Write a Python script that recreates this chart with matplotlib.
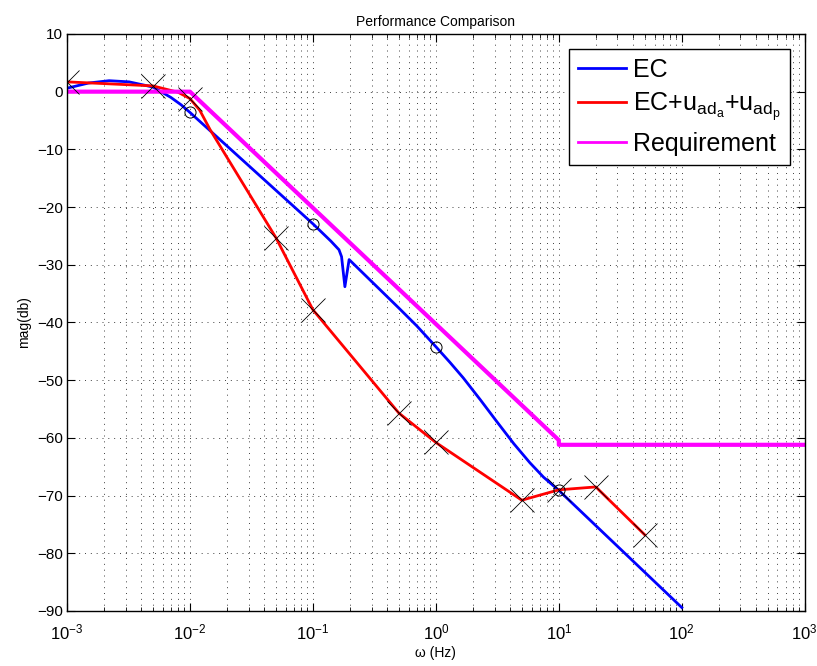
import numpy as np
import matplotlib.pyplot as plt
from matplotlib.ticker import NullFormatter, LogLocator

# -------- Data --------

# EC response (blue)
ec_freq = [1e-3, 1.5e-3, 2.2e-3, 3.2e-3, 5e-3, 7e-3, 8.5e-3, 1e-2, 0.1, 0.14,
           0.163, 0.171, 0.182, 0.197, 0.5, 0.7, 1.0, 1.3, 1.67, 2.3, 3.11,
           4.3, 5.81, 7.5, 10.0, 100.0]
ec_mag = [0.6, 1.5, 1.9, 1.7, 0.8, -1.0, -2.3, -3.6, -22.9, -25.9,
          -27.4, -28.6, -33.8, -29.1, -37.5, -40.6, -44.2, -46.9, -49.6, -53.4, -57.1,
          -61.0, -64.3, -66.8, -69.1, -89.4]
ec_circle_freq = [1e-2, 0.1, 1.0, 10.0]
ec_circle_mag = [-3.6, -22.9, -44.2, -69.1]

# EC + adaptive terms (red)
ad_freq = [1e-3, 5e-3, 8e-3, 1e-2, 0.012, 0.0146, 0.05, 0.1, 0.5, 1.0, 5.0, 10.0, 20.0, 50.0]
ad_mag = [1.7, 1.0, -0.1, -1.2, -3.2, -6.6, -25.3, -37.8, -55.7, -60.8, -70.8, -69.0, -68.5, -76.8]
ad_x_freq = [1e-3, 5e-3, 1e-2, 0.05, 0.1, 0.5, 1.0, 5.0, 10.0, 20.0, 50.0]
ad_x_mag = [1.7, 1.0, -1.2, -25.3, -37.8, -55.7, -60.8, -70.8, -69.0, -68.5, -76.8]

# Requirement (magenta)
req_freq = [1e-3, 1e-2, 10.0, 10.0, 1000.0]
req_mag = [0.0, 0.0, -60.4, -61.2, -61.2]

labels = ['EC', 'EC+u$_{ad_a}$+u$_{ad_p}$', 'Requirement']


def main():
    plt.rcParams['font.family'] = ['Liberation Sans', 'DejaVu Sans']
    plt.rcParams['mathtext.default'] = 'regular'

    fig = plt.figure(figsize=(8.17, 6.66), dpi=100)
    ax = fig.add_axes([0.082, 0.0826, 0.903, 0.8664])

    ax.semilogx(ec_freq, ec_mag, color=(0, 0, 1), lw=2, label=labels[0])
    ax.semilogx(ad_freq, ad_mag, color=(1, 0, 0), lw=2, label=labels[1])
    ax.semilogx(req_freq, req_mag, color=(1, 0, 1), lw=3, label=labels[2])

    # markers
    ax.plot(ad_x_freq, ad_x_mag, 'x', color='k', ms=17, mew=0.6)
    ax.plot(ec_circle_freq, ec_circle_mag, 'o', mfc='none', mec='k', ms=8, mew=0.7)

    ax.set_xlim(1e-3, 1e3)
    ax.set_ylim(-90, 10)
    ax.set_yticks(np.arange(-90, 11, 10))
    ax.xaxis.set_major_locator(LogLocator(base=10, numticks=10))
    ax.xaxis.set_minor_locator(LogLocator(base=10, subs=np.arange(2, 10), numticks=100))
    ax.xaxis.set_minor_formatter(NullFormatter())

    dots = (0, (1, 5))
    ax.grid(True, which='major', axis='both', linestyle=dots, color='0.25', lw=0.7)
    ax.grid(True, which='minor', axis='x', linestyle=dots, color='0.25', lw=0.7)

    ax.tick_params(which='both', direction='in', top=True, right=True)
    ax.tick_params(which='major', length=6)
    ax.tick_params(axis='y', labelsize=11, pad=3)
    ax.tick_params(axis='x', which='major', labelsize=12, pad=8)
    ax.tick_params(which='minor', length=3)
    for s in ax.spines.values():
        s.set_linewidth(1.0)

    ax.set_title('Performance Comparison', fontsize=10)
    ax.set_xlabel('\u03c9 (Hz)', fontsize=10, labelpad=3)
    ax.set_ylabel('mag(db)', fontsize=10)

    leg = ax.legend(loc='upper right', fontsize=18, fancybox=False, framealpha=1,
                    edgecolor='k', handlelength=1.9, borderpad=0.35, labelspacing=0.35,
                    handletextpad=0.3, borderaxespad=0.6)
    leg.get_frame().set_linewidth(1.0)
    for h in leg.get_lines():
        h.set_linewidth(2)

    fig.savefig('out.png', dpi=100)


main()
